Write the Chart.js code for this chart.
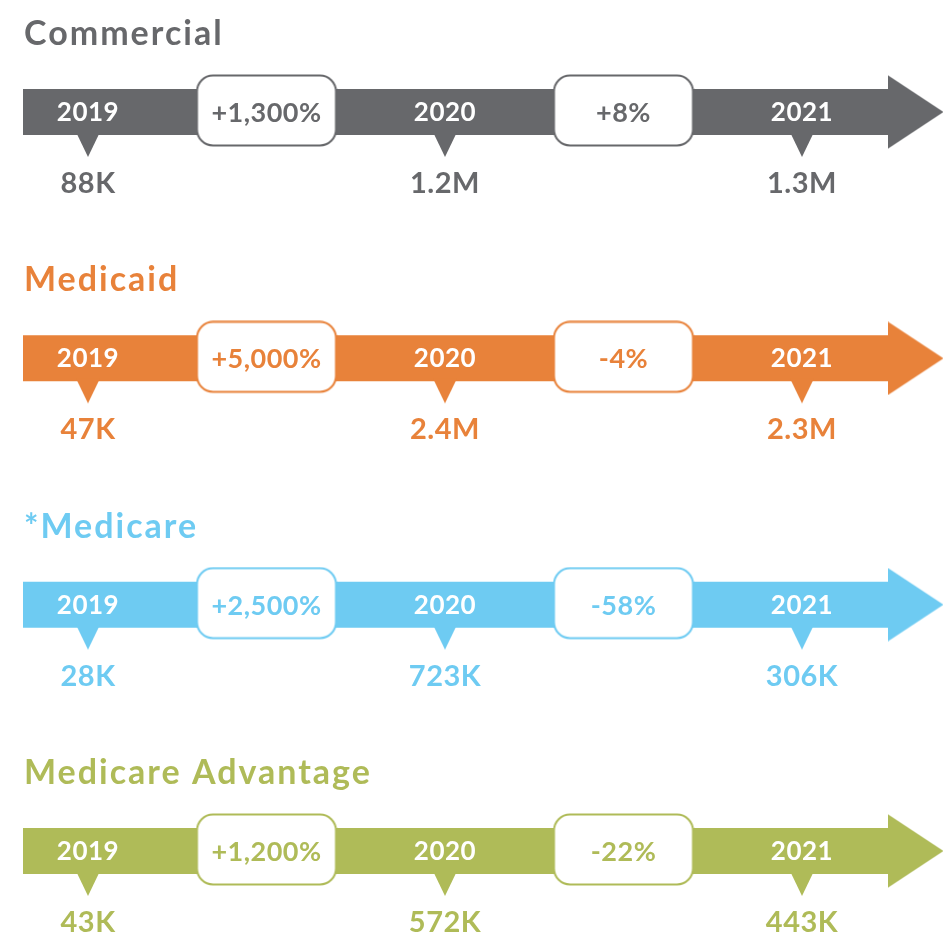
<!DOCTYPE html>
<html>
<head>
<meta charset="utf-8">
<script src="https://cdn.jsdelivr.net/npm/chart.js@4/dist/chart.umd.min.js"></script>
<style>
    html, body { margin: 0; padding: 0; background: #fff; }
    canvas { display: block; }
</style>
</head>
<body>
<canvas id="timeline" width="943" height="934"></canvas>
<script>
// @ts-check

const segments = ['Commercial', 'Medicaid', '*Medicare', 'Medicare Advantage'];
const years = ['2019', '2020', '2021'];

const commercialMembers = ['88K', '1.2M', '1.3M'];
const medicaidMembers = ['47K', '2.4M', '2.3M'];
const medicareMembers = ['28K', '723K', '306K'];
const advantageMembers = ['43K', '572K', '443K'];

const commercialChange = ['+1,300%', '+8%'];
const medicaidChange = ['+5,000%', '-4%'];
const medicareChange = ['+2,500%', '-58%'];
const advantageChange = ['+1,200%', '-22%'];

const members = [commercialMembers, medicaidMembers, medicareMembers, advantageMembers];
const changes = [commercialChange, medicaidChange, medicareChange, advantageChange];
const colors = ['#67686b', '#e8823a', '#6ecbf2', '#afbb58'];

// layout (scale units: x = year index, y = segment index)
const X_UNIT = 357;
const Y_UNIT = 246.33;
const X_MIN = -88 / X_UNIT;
const X_MAX = 855 / X_UNIT;
const Y_MIN = -112 / Y_UNIT;
const Y_MAX = 822 / Y_UNIT;
const BAND_START = -65 / X_UNIT;
const BAND_END = 804 / X_UNIT;
const HEAD_CENTER = 827.5 / X_UNIT;
const FONT = 'Lato, "Open Sans", sans-serif';


/**
 * Small canvas used as a point style
 * @param {number} w
 * @param {number} h
 * @param {(ctx: CanvasRenderingContext2D) => void} paint
 */
function makeSprite(w, h, paint) {
    const c = document.createElement('canvas');
    c.width = w;
    c.height = h;
    const ctx = c.getContext('2d');
    if (ctx) paint(ctx);
    return c;
}

function headSprite(color) {
    return makeSprite(56, 74, (ctx) => {
        ctx.fillStyle = color;
        ctx.beginPath();
        ctx.moveTo(0, 0);
        ctx.lineTo(56, 37);
        ctx.lineTo(0, 74);
        ctx.closePath();
        ctx.fill();
    });
}

function pointerSprite(color) {
    return makeSprite(26, 92, (ctx) => {
        ctx.fillStyle = color;
        ctx.beginPath();
        ctx.moveTo(1, 66);
        ctx.lineTo(25, 66);
        ctx.lineTo(13, 91);
        ctx.closePath();
        ctx.fill();
    });
}

function boxSprite(color) {
    return makeSprite(142, 74, (ctx) => {
        ctx.fillStyle = '#fff';
        ctx.strokeStyle = color;
        ctx.lineWidth = 2;
        ctx.beginPath();
        ctx.roundRect(1.5, 1.5, 139, 70, 16);
        ctx.fill();
        ctx.stroke();
    });
}

const datasets = [];
segments.forEach((name, i) => {
    const color = colors[i];
    datasets.push({
        type: 'line',
        label: name,
        data: [{ x: BAND_START, y: i }, { x: BAND_END, y: i }],
        borderColor: color,
        borderWidth: 46,
        borderCapStyle: 'butt',
        pointRadius: 0,
        clip: false,
        order: 40 + i,
    });
    datasets.push({
        type: 'scatter',
        data: [{ x: HEAD_CENTER, y: i }],
        pointStyle: headSprite(color),
        clip: false,
        order: 30 + i,
    });
    datasets.push({
        type: 'scatter',
        data: years.map((_, k) => ({ x: k, y: i })),
        pointStyle: pointerSprite(color),
        order: 20 + i,
    });
    datasets.push({
        type: 'scatter',
        data: changes[i].map((_, k) => ({ x: k + 0.5, y: i - 1 / Y_UNIT })),
        pointStyle: boxSprite(color),
        order: 10 + i,
    });
});


const labelPlugin = {
    id: 'labels',
    afterDatasetsDraw(chart) {
        const { ctx, scales } = chart;
        const xs = scales.x;
        const ys = scales.y;
        ctx.save();
        ctx.textBaseline = 'alphabetic';
        segments.forEach((name, i) => {
            const y0 = ys.getPixelForValue(i);
            const color = colors[i];

            ctx.fillStyle = color;
            ctx.textAlign = 'left';
            ctx.font = `bold 34px ${FONT}`;
            ctx.letterSpacing = '2px';
            ctx.fillText(name, 24, y0 - 67);

            ctx.letterSpacing = '0.5px';
            ctx.textAlign = 'center';
            years.forEach((year, k) => {
                const x = xs.getPixelForValue(k);
                ctx.fillStyle = '#fff';
                ctx.font = `bold 26px ${FONT}`;
                ctx.fillText(year, x, y0 + 9);
                ctx.fillStyle = color;
                ctx.font = `bold 29px ${FONT}`;
                ctx.fillText(members[i][k], x, y0 + 81);
            });
            changes[i].forEach((label, k) => {
                const x = xs.getPixelForValue(k + 0.5);
                ctx.fillStyle = color;
                ctx.font = `bold 27px ${FONT}`;
                ctx.fillText(label, x, y0 + 10);
            });
        });
        ctx.restore();
    }
};


const canvas = /** @type {HTMLCanvasElement} */ (document.getElementById('timeline'));
new Chart(canvas, {
    type: 'scatter',
    data: { datasets },
    options: {
        responsive: false,
        devicePixelRatio: 1,
        animation: false,
        events: [],
        layout: { padding: 0, autoPadding: false },
        plugins: {
            legend: { display: false },
            tooltip: { enabled: false },
        },
        scales: {
            x: { type: 'linear', display: false, min: X_MIN, max: X_MAX },
            y: { type: 'linear', display: false, reverse: true, min: Y_MIN, max: Y_MAX },
        },
    },
    plugins: [labelPlugin],
});
</script>
</body>
</html>
